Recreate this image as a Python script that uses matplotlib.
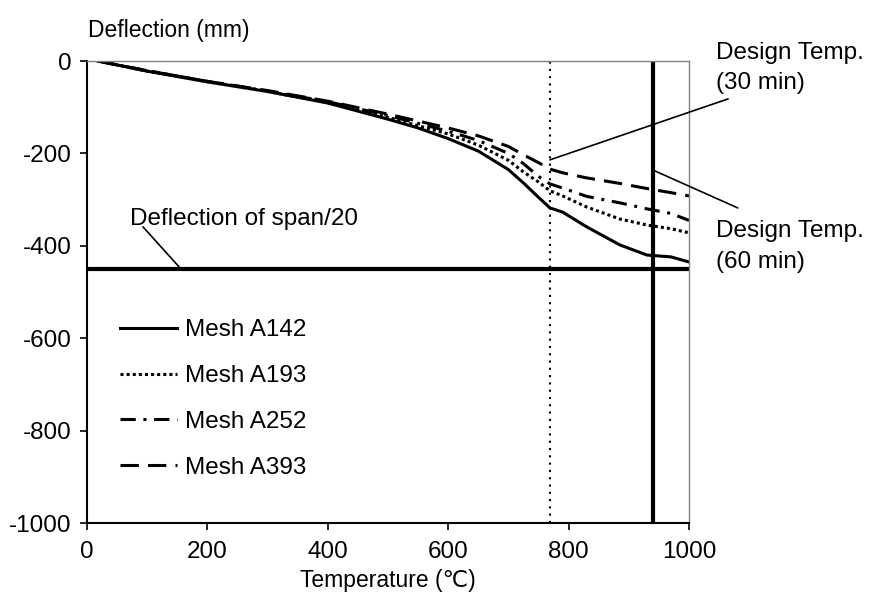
import matplotlib.pyplot as plt

plt.rcParams['font.family'] = ['Liberation Sans', 'DejaVu Sans']
plt.rcParams['axes.unicode_minus'] = False

# data
temp = [18, 100, 200, 300, 400, 500, 550, 600, 650, 700, 725, 750, 769, 790, 830, 885, 930, 970, 1000]
a142 = [0, -22, -45, -66, -91, -126, -145, -168, -195, -235, -264, -295, -318, -327, -359, -398, -420, -424, -435]
a193 = [0, -22, -45, -66, -90, -122, -140, -158, -182, -215, -240, -262, -281, -292, -316, -342, -355, -363, -372]
a252 = [0, -21, -44, -65, -88, -118, -135, -152, -172, -200, -222, -250, -266, -275, -293, -307, -320, -330, -345]
a393 = [0, -21, -44, -64, -87, -115, -130, -145, -162, -185, -203, -220, -234, -242, -253, -265, -276, -285, -292]

span_limit = -450
design_30 = 769
design_60 = 940

fig = plt.figure(figsize=(8.77, 6.16), dpi=100)
ax = fig.add_axes([87 / 877, 1 - 523 / 616, 602 / 877, 462 / 616])

lw = 2.2
ax.plot(temp, a142, color='black', lw=lw, ls='-', label='Mesh A142')
ax.plot(temp, a193, color='black', lw=lw, ls=(0, (1, 1)), label='Mesh A193')
ax.plot(temp, a252, color='black', lw=lw, ls=(0, (5, 2.5, 1, 2.5)), label='Mesh A252')
ax.plot(temp, a393, color='black', lw=lw, ls=(0, (6, 3)), label='Mesh A393')

# limit lines
ax.axhline(span_limit, color='black', lw=3)
ax.axvline(design_60, color='black', lw=3)
ax.axvline(design_30, color='black', lw=1.5, ls=(0, (1, 2.5)))

# annotations
fs = 17.5
leader = dict(arrowstyle='-', lw=1.2, color='black', shrinkA=0, shrinkB=0)
ax.text(71, -355, 'Deflection of span/20', fontsize=fs, va='baseline', ha='left')
ax.annotate('', xy=(156, span_limit), xytext=(93, -359), arrowprops=leader,
            annotation_clip=False)
ax.annotate('', xy=(design_30, -214), xytext=(1065, -82), arrowprops=leader,
            annotation_clip=False)
ax.annotate('', xy=(design_60, -236), xytext=(1081, -318), arrowprops=leader,
            annotation_clip=False)
ax.text(1045, 4, 'Design Temp.', fontsize=fs, va='baseline', ha='left', clip_on=False)
ax.text(1045, -61, '(30 min)', fontsize=fs, va='baseline', ha='left', clip_on=False)
ax.text(1045, -381, 'Design Temp.', fontsize=fs, va='baseline', ha='left', clip_on=False)
ax.text(1045, -448, '(60 min)', fontsize=fs, va='baseline', ha='left', clip_on=False)

ax.set_xlim(0, 1000)
ax.set_ylim(-1000, 0)
ax.set_xticks([0, 200, 400, 600, 800, 1000])
ax.set_yticks([0, -200, -400, -600, -800, -1000])
ax.tick_params(direction='out', length=5, width=1.2, labelsize=fs)
ax.tick_params(axis='x', pad=8)
ax.tick_params(axis='y', pad=6)

for side in ['top', 'right']:
    ax.spines[side].set_color('#808080')
    ax.spines[side].set_linewidth(1)
for side in ['left', 'bottom']:
    ax.spines[side].set_linewidth(1.5)

ax.legend(loc='upper left', bbox_to_anchor=(0.055, 0.441), frameon=False,
          fontsize=fs, handlelength=2.35, handletextpad=0.33, labelspacing=0.98,
          borderpad=0, borderaxespad=0)

fig.text(88 / 877, 1 - 30 / 616, 'Deflection (mm)', fontsize=16.5, va='center', ha='left')
fig.text(388 / 877, 1 - 580 / 616, 'Temperature (℃)', fontsize=16.5, va='center', ha='center')

fig.savefig('out.png', dpi=100)
